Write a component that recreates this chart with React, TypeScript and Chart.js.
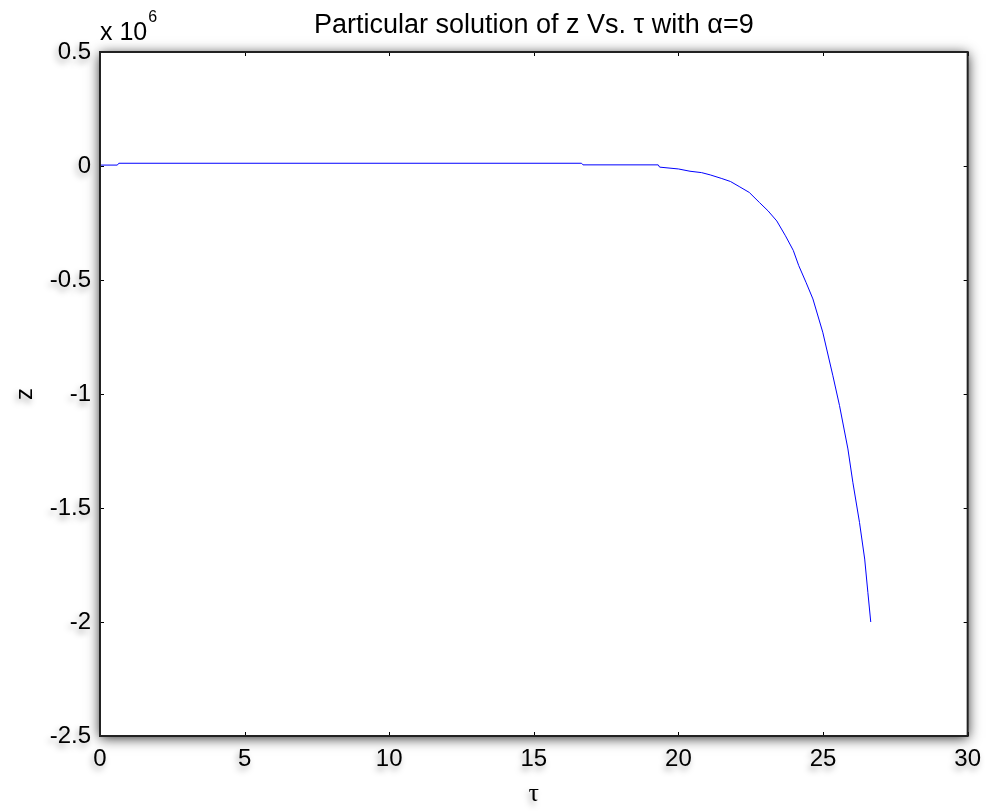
import React, { useEffect, useRef } from "react";
import { Chart, registerables } from "chart.js";

Chart.register(...registerables);

// τ values and z values (z in units of 10^6)
const tauValues = [0, 0.6, 0.65, 16.65, 16.7, 19.3, 19.35, 20.0, 20.4, 20.8, 21.1, 21.5, 21.8, 22.1, 22.45, 22.8, 23.1, 23.4, 23.7, 23.97, 24.16, 24.41, 24.65, 24.99, 25.34, 25.57, 25.86, 26.03, 26.26, 26.44, 26.55, 26.65];
const zValues = [0.004, 0.004, 0.012, 0.012, 0.005, 0.005, -0.005, -0.013, -0.023, -0.029, -0.039, -0.055, -0.068, -0.09, -0.116, -0.16, -0.197, -0.241, -0.306, -0.37, -0.437, -0.51, -0.583, -0.729, -0.92, -1.051, -1.241, -1.387, -1.563, -1.724, -1.87, -2.0];

const xTicks = [0, 5, 10, 15, 20, 25, 30];
const yTicks = [0.5, 0, -0.5, -1, -1.5, -2, -2.5];

const titleText = "Particular solution of z Vs. τ with α=9";
const xLabel = "τ";
const yLabel = "z";
const FONT = "Arial, 'Liberation Sans', Helvetica, sans-serif";

const framePlugin = {
  id: "matlabFrame",
  beforeDraw(chart: any) {
    const { ctx, chartArea: a } = chart;
    ctx.save();
    ctx.fillStyle = "#ffffff";
    ctx.shadowColor = "rgba(0,0,0,0.85)";
    ctx.shadowBlur = 12;
    ctx.shadowOffsetX = 0;
    ctx.shadowOffsetY = 2;
    ctx.fillRect(a.left, a.top, a.right - a.left, a.bottom - a.top);
    ctx.restore();
    // shadow for text labels drawn by the scales
    ctx.shadowColor = "rgba(0,0,0,0.35)";
    ctx.shadowBlur = 6;
    ctx.shadowOffsetX = -2;
    ctx.shadowOffsetY = 4;
  },
  beforeDatasetsDraw(chart: any) {
    const { ctx } = chart;
    ctx.shadowColor = "rgba(0,0,0,0)";
    ctx.shadowBlur = 0;
    ctx.shadowOffsetX = 0;
    ctx.shadowOffsetY = 0;
  },
  afterDatasetsDraw(chart: any) {
    const { ctx, chartArea: a, scales } = chart;
    ctx.save();
    ctx.strokeStyle = "#000000";
    ctx.lineWidth = 1;
    const tl = 4;
    ctx.beginPath();
    for (const v of xTicks) {
      const x = Math.round(scales.x.getPixelForValue(v)) + 0.5;
      ctx.moveTo(x, a.bottom);
      ctx.lineTo(x, a.bottom - tl);
      ctx.moveTo(x, a.top);
      ctx.lineTo(x, a.top + tl);
    }
    for (const v of yTicks) {
      const y = Math.round(scales.y.getPixelForValue(v)) + 0.5;
      ctx.moveTo(a.left, y);
      ctx.lineTo(a.left + tl, y);
      ctx.moveTo(a.right, y);
      ctx.lineTo(a.right - tl, y);
    }
    ctx.stroke();
    ctx.strokeStyle = "#222222";
    ctx.lineWidth = 2;
    ctx.strokeRect(a.left, a.top, a.right - a.left, a.bottom - a.top);
    ctx.restore();
  },
  afterDraw(chart: any) {
    const { ctx, chartArea: a } = chart;
    ctx.save();
    ctx.fillStyle = "#000000";
    ctx.textBaseline = "alphabetic";
    ctx.font = `27px ${FONT}`;
    ctx.textAlign = "center";
    ctx.fillText(titleText, (a.left + a.right) / 2, 33);
    ctx.textAlign = "left";
    ctx.font = `25px ${FONT}`;
    ctx.fillText("x 10", a.left, 40);
    const w = ctx.measureText("x 10").width;
    ctx.font = `16px ${FONT}`;
    ctx.fillText("6", a.left + w + 1, 22);
    ctx.restore();
  },
};

export default function App() {
  const ref = useRef<HTMLCanvasElement>(null);
  useEffect(() => {
    if (!ref.current) return;
    const chart = new Chart(ref.current, {
      type: "line",
      data: {
        datasets: [
          {
            data: tauValues.map((t, i) => ({ x: t, y: zValues[i] })),
            borderColor: "#0000ff",
            borderWidth: 1,
            pointRadius: 0,
            tension: 0,
            fill: false,
          },
        ],
      },
      options: {
        responsive: false,
        animation: false,
        layout: { padding: { left: 0, top: 52, right: 21, bottom: 0 } },
        plugins: { legend: { display: false }, tooltip: { enabled: false }, title: { display: false } },
        scales: {
          x: {
            type: "linear",
            min: 0,
            max: 30,
            afterBuildTicks: (s: any) => { s.ticks = xTicks.map((v) => ({ value: v })); },
            afterFit: (s: any) => { s.height = 76; },
            ticks: { color: "#000", font: { family: FONT, size: 24 }, padding: 9, maxRotation: 0, callback: (v: any) => String(v) },
            grid: { drawOnChartArea: false, drawTicks: false },
            border: { display: false },
            title: { display: true, text: xLabel, color: "#000", font: { family: "'Liberation Serif', 'Times New Roman', serif", size: 26 }, padding: { top: 0, bottom: 2 } },
          },
          y: {
            type: "linear",
            min: -2.5,
            max: 0.5,
            afterBuildTicks: (s: any) => { s.ticks = yTicks.map((v) => ({ value: v })); },
            afterFit: (s: any) => { s.width = 100; },
            ticks: { color: "#000", font: { family: FONT, size: 24 }, padding: 9, callback: (v: any) => String(v) },
            grid: { drawOnChartArea: false, drawTicks: false },
            border: { display: false },
            title: { display: true, text: yLabel, color: "#000", font: { family: FONT, size: 24 }, padding: { top: 11, bottom: 0 } },
          },
        },
      },
      plugins: [framePlugin],
    } as any);
    return () => chart.destroy();
  }, []);
  return (
    <div style={{ position: "fixed", left: 0, top: 0, width: 990, height: 812, background: "#fff" }}>
      <canvas ref={ref} width={990} height={812} style={{ width: 990, height: 812, display: "block" }} />
    </div>
  );
}
